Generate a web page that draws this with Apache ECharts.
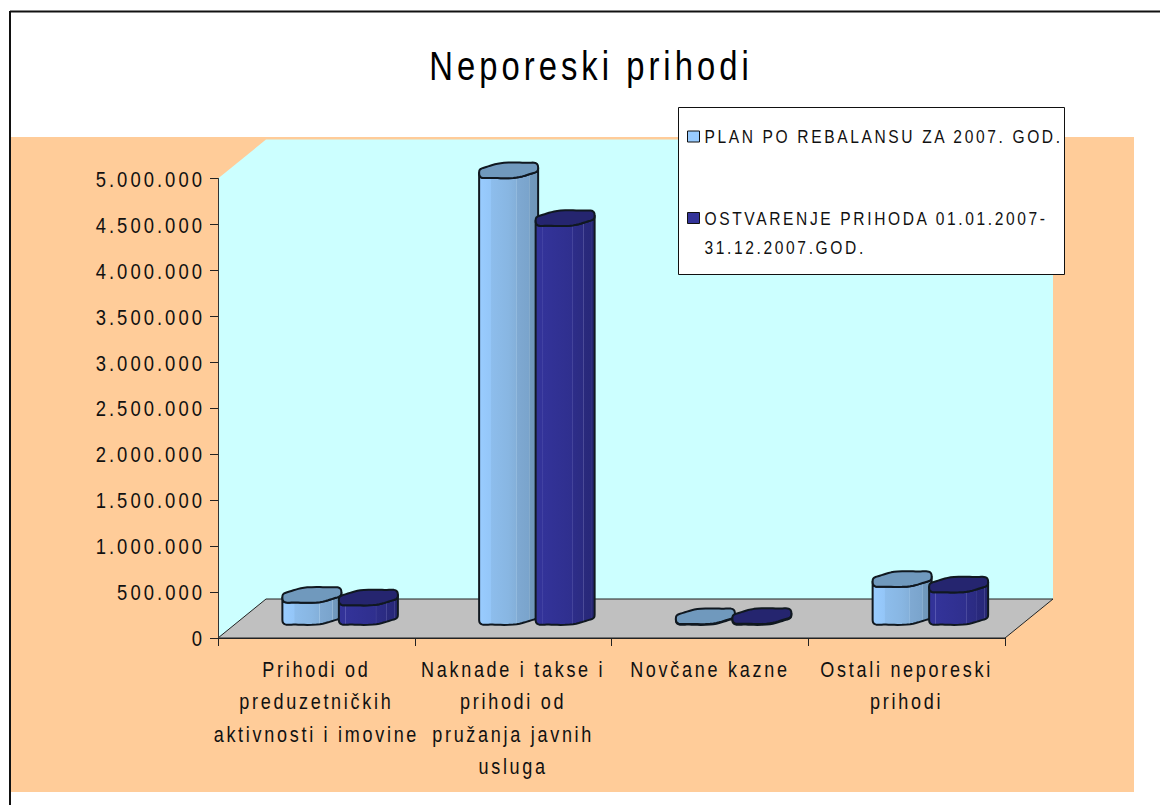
<!DOCTYPE html>
<html>
<head>
<meta charset="utf-8">
<style>
html,body{margin:0;padding:0;background:#fff;}
#c{width:1160px;height:805px;}
text{letter-spacing:3.3px;}
text[style*="22.5px"]{letter-spacing:3.7px;}
text[style*="40px"]{letter-spacing:4.9px;}
text[style*="19px"]{letter-spacing:3.2px;}
</style>
<script src="https://cdn.jsdelivr.net/npm/echarts@6/dist/echarts.min.js"></script>
</head>
<body>
<div id="c"></div>
<script>
const categories = ['Prihodi od\npreduzetničkih\naktivnosti i imovine','Naknade i takse i\nprihodi od\npružanja javnih\nusluga','Novčane kazne','Ostali neporeski\nprihodi'];
const planName = 'PLAN PO REBALANSU ZA 2007. GOD.';
const actualName = 'OSTVARENJE PRIHODA 01.01.2007-\n31.12.2007.GOD.';
const planValues = [240000, 4860000, 8000, 413000];
const actualValues = [212000, 4340000, 10000, 353000];
const yMax = 5000000, yStep = 500000;
const titleText = 'Neporeski prihodi';

const DEPTH = {x:48, y:-39};
const BAR = {dx:24, dy:-21, rx:29.5, ry:7.4, tilt:2.8};
const NARROW = 0.82;

function stripes(cols){
  return {type:'linear',x:0,y:0,x2:1,y2:0,colorStops:cols.map(c=>({offset:c[0],color:c[1]}))};
}
const planSide = stripes([[0,'#99ccff'],[.2,'#94c6f8'],[.21,'#8dbdec'],[.5,'#88b6e2'],[.62,'#84b0da'],[.63,'#9dc3e4'],[.64,'#7fa9d2'],[.84,'#7aa4cc'],[.85,'#93b6d4'],[.86,'#7199bd'],[1,'#6f96b8']]);
const actualSide = stripes([[0,'#333399'],[.1,'#333399'],[.11,'#5d5db5'],[.12,'#333399'],[.62,'#2f2f8e'],[.63,'#5858a8'],[.64,'#2d2d88'],[.8,'#2b2b82'],[.81,'#50509c'],[.82,'#29297c'],[.93,'#28287a'],[.94,'#474790'],[.95,'#262673'],[1,'#262673']]);

function spow(v,p){ return Math.sign(v)*Math.pow(Math.abs(v),p); }
function outline(cx,cy,t){
  const c=spow(Math.cos(t),0.8), s=spow(Math.sin(t),0.68);
  return [cx+BAR.rx*c,
          cy-BAR.tilt*Math.cos(t)+BAR.ry*s+0.5*Math.sin(5*t+0.6)];
}
function cylinder(side,top,offset,params,api){
  const cat = api.value(0), val = api.value(1);
  const base = api.coord([cat,0]), head = api.coord([cat,val]);
  const cx = base[0]+BAR.dx+offset;
  const by = base[1]+BAR.dy, ty = head[1]+BAR.dy;
  const N = 64, sidePts = [], capPts = [];
  for(let i=0;i<=N/2;i++){ sidePts.push(outline(cx,by,i/N*2*Math.PI)); }
  sidePts.push(outline(cx,ty,Math.PI));
  for(let i=N/2;i>=0;i--){ sidePts.push(outline(cx,ty,i/N*2*Math.PI)); }
  for(let i=0;i<N;i++){ capPts.push(outline(cx,ty,i/N*2*Math.PI)); }
  const line = {stroke:'#101820',lineWidth:2,lineJoin:'round'};
  return {type:'group',children:[
    {type:'polygon',shape:{points:sidePts},style:Object.assign({fill:side},line)},
    {type:'polygon',shape:{points:capPts},style:Object.assign({fill:top},line)}
  ]};
}
function walls(params){
  const g = params.coordSys, L=g.x, T=g.y, R=g.x+g.width, B=g.y+g.height;
  const d=DEPTH;
  return {type:'group',children:[
    {type:'polygon',shape:{points:[[L,B],[L,T],[L+d.x,T+d.y],[R+d.x,T+d.y],[R+d.x,B+d.y],[R,B]]},style:{fill:'#ccffff'}},
    {type:'polygon',shape:{points:[[L,B],[L+d.x,B+d.y],[R+d.x,B+d.y],[R,B]]},style:{fill:'#c0c0c0',stroke:'#222',lineWidth:1}}
  ]};
}
const font = '"Liberation Sans", Arial, sans-serif';
const chart = echarts.init(document.getElementById('c'),null,{renderer:'svg',width:1160,height:805});
chart.setOption({
  animation:false,
  backgroundColor:'#ffffff',
  title:{text:titleText,left:586,top:41,textAlign:'center',textStyle:{fontFamily:font,fontSize:40,fontWeight:'normal',color:'#000'}},
  grid:{left:218,top:178.5,width:787,height:459.5},
  xAxis:{type:'category',data:categories,
    axisLine:{show:true,lineStyle:{color:'#222',width:1}},
    axisTick:{show:true,length:8,alignWithLabel:false,lineStyle:{color:'#222'}},
    axisLabel:{interval:0,fontFamily:font,fontSize:22,color:'#111',lineHeight:32.5,margin:15,verticalAlign:'top'}},
  yAxis:{type:'value',min:0,max:yMax,interval:yStep,
    axisLine:{show:true,lineStyle:{color:'#333',width:1}},
    axisTick:{show:true,length:8,lineStyle:{color:'#222'}},
    splitLine:{show:false},
    axisLabel:{fontFamily:font,fontSize:22.5,color:'#111',margin:13,
      formatter:v=>String(v).replace(/\B(?=(\d{3})+(?!\d))/g,'.')}},
  legend:{orient:'vertical',left:682,top:117,z:100,itemWidth:12,itemHeight:11,itemGap:23.5,
    textStyle:{fontFamily:font,fontSize:19,color:'#111',lineHeight:29},
    formatter:n=>n.indexOf('\n')>=0?'\n'+n:n,
    data:[{name:planName,icon:'rect',itemStyle:{color:'#99ccff',borderColor:'#111',borderWidth:1}},
          {name:actualName,icon:'rect',itemStyle:{color:'#333399',borderColor:'#111',borderWidth:1}}]},
  graphic:[
    {type:'rect',z:-10,shape:{x:11,y:137,width:1123,height:655},style:{fill:'#ffcc99'}},
    {type:'line',z:90,shape:{x1:10,y1:11.5,x2:1160,y2:11.5},style:{stroke:'#111',lineWidth:2}},
    {type:'line',z:90,shape:{x1:10,y1:11,x2:10,y2:805},style:{stroke:'#111',lineWidth:2}},
    {type:'rect',z:90,shape:{x:678.5,y:107.5,width:386,height:167},style:{fill:'#fff',stroke:'#111',lineWidth:1}}
  ],
  series:[
    {type:'custom',name:'walls',z:-1,coordinateSystem:'cartesian2d',clip:false,silent:true,data:[[0,0]],renderItem:walls},
    {type:'custom',name:planName,z:3,clip:false,itemStyle:{color:'#99ccff'},encode:{x:0,y:1},
      data:planValues.map((v,i)=>[i,v]),
      renderItem:(p,a)=>cylinder(planSide,'#7099bd',-28.5,p,a)},
    {type:'custom',name:actualName,z:4,clip:false,itemStyle:{color:'#333399'},encode:{x:0,y:1},
      data:actualValues.map((v,i)=>[i,v]),
      renderItem:(p,a)=>cylinder(actualSide,'#25256f',28,p,a)}
  ]
});
// The reference's lettering is horizontally condensed: narrow each label about its own anchor.
function condenseText(){
  document.querySelectorAll('#c text').forEach(t=>{
    if(t.dataset.narrow) return;
    t.dataset.narrow='1';
    const x=parseFloat(t.getAttribute('x')||0), prev=t.getAttribute('transform')||'';
    t.setAttribute('transform',prev+' translate('+x+' 0) scale('+NARROW+' 1) translate('+(-x)+' 0)');
  });
}
condenseText();
chart.on('finished',condenseText);
</script>
</body>
</html>
